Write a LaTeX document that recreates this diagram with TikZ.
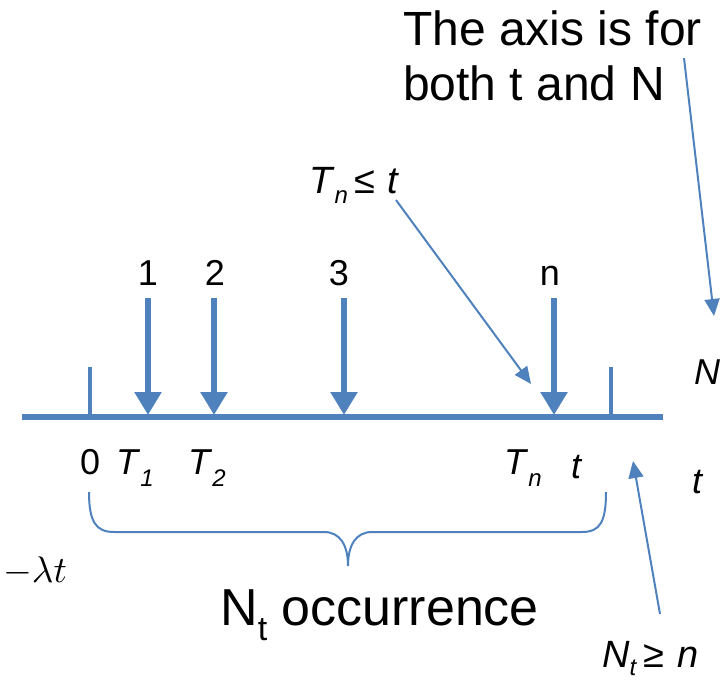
\documentclass[tikz,border=0pt]{standalone}
\usepackage{fontspec}
\setmainfont{Liberation Sans}
\usetikzlibrary{arrows.meta}
\definecolor{pblue}{RGB}{79,129,189}
\newcommand{\fs}[1]{\fontsize{#1}{#1}\selectfont}
\newcommand{\lsub}[3]{\raisebox{-#1pt}{\fs{#2}#3}}
\begin{document}
\begin{tikzpicture}[x=1pt,y=-1pt,
  axisline/.style={draw=pblue, line width=5.5pt},
  tickline/.style={draw=pblue, line width=4.5pt},
  evarrow/.style={draw=pblue, line width=5.5pt, -{Triangle[width=26pt,length=23pt]}},
  pointer/.style={draw=pblue, line width=2pt, -{Triangle[width=15pt,length=17pt]}},
  bracel/.style={draw=pblue, line width=2pt},
  lab/.style={inner sep=0pt, anchor=base west, font=\fs{36}},
  num/.style={inner sep=0pt, anchor=base, font=\fs{36}}]
\useasboundingbox (0,0) rectangle (724,680);

% axis and ticks
\coordinate (axL) at (22,417);
\coordinate (axR) at (663,417);
\draw[axisline] (axL) -- (axR);
\coordinate (tk0a) at (90,367);  \coordinate (tk0b) at (90,417);
\coordinate (tkta) at (611,367); \coordinate (tktb) at (611,417);
\draw[tickline] (tk0a) -- (tk0b);
\draw[tickline] (tkta) -- (tktb);

% event arrows with labels
\node[num] (l1) at (148,285) {1};
\node[num] (l2) at (215,285) {2};
\node[num] (l3) at (339,285) {3};
\node[num] (ln) at (550,285) {n};
\coordinate (e1a) at (148,298); \coordinate (e1b) at (148,415);
\coordinate (e2a) at (214,298); \coordinate (e2b) at (214,415);
\coordinate (e3a) at (344,298); \coordinate (e3b) at (344,415);
\coordinate (ena) at (554,298); \coordinate (enb) at (554,415);
\draw[evarrow] (e1a) -- (e1b);
\draw[evarrow] (e2a) -- (e2b);
\draw[evarrow] (e3a) -- (e3b);
\draw[evarrow] (ena) -- (enb);

% axis labels
\node[lab] (zero) at (80,474) {0};
\node[lab] (T1) at (116,474) {\textit{T}\lsub{12}{24}{\textit{1}}};
\node[lab] (T2) at (188,474) {\textit{T}\lsub{12}{24}{\textit{2}}};
\node[lab] (Tn) at (504,474) {\textit{T}\lsub{12}{24}{\textit{n}}};
\node[lab] (tt) at (571,478) {\textit{t}};
\node[lab] (tax) at (692,493) {\textit{t}};
\node[lab] (Nax) at (694,384) {\textit{N}};

% annotations
\node[inner sep=0pt, anchor=base west, align=left, font=\fontsize{48}{55}\selectfont] (note) at (403,100) {The axis is for\\both t and N};
\node[inner sep=0pt, anchor=base west, font=\fs{38}] (tnle) at (309,193) {\textit{T}\lsub{10}{24}{\textit{n}}\,≤\,\,\textit{t}};
\node[inner sep=0pt, anchor=base west, font=\fs{38}] (ntge) at (602,667) {\textit{N}\lsub{8}{24}{\textit{t}}\,≥\,\,\textit{n}};
\node[inner sep=0pt, anchor=base west] (lam) at (3,582) {\scalebox{3.7}{$-\lambda t$}};
\node[inner sep=0pt, anchor=base west, font=\fs{52}] (occ) at (220,625) {N\lsub{15}{34}{t} occurrence};

% pointers
\coordinate (p1s) at (684,58);  \coordinate (p1e) at (714,316);
\coordinate (p2s) at (396,200); \coordinate (p2e) at (531,384);
\coordinate (p3s) at (660,614); \coordinate (p3e) at (633,461);
\draw[pointer] (p1s) -- (p1e);
\draw[pointer] (p2s) -- (p2e);
\draw[pointer] (p3s) -- (p3e);

% brace
\coordinate (brL) at (89,492);
\coordinate (brC) at (348,566);
\coordinate (brR) at (606,492);
\draw[bracel] (brL) .. controls (89,522) and (96,532) .. (114,532)
  -- (324,532) .. controls (340,532) and (348,545) .. (brC)
  .. controls (348,545) and (356,532) .. (372,532)
  -- (582,532) .. controls (600,532) and (606,522) .. (brR);
\end{tikzpicture}
\end{document}
